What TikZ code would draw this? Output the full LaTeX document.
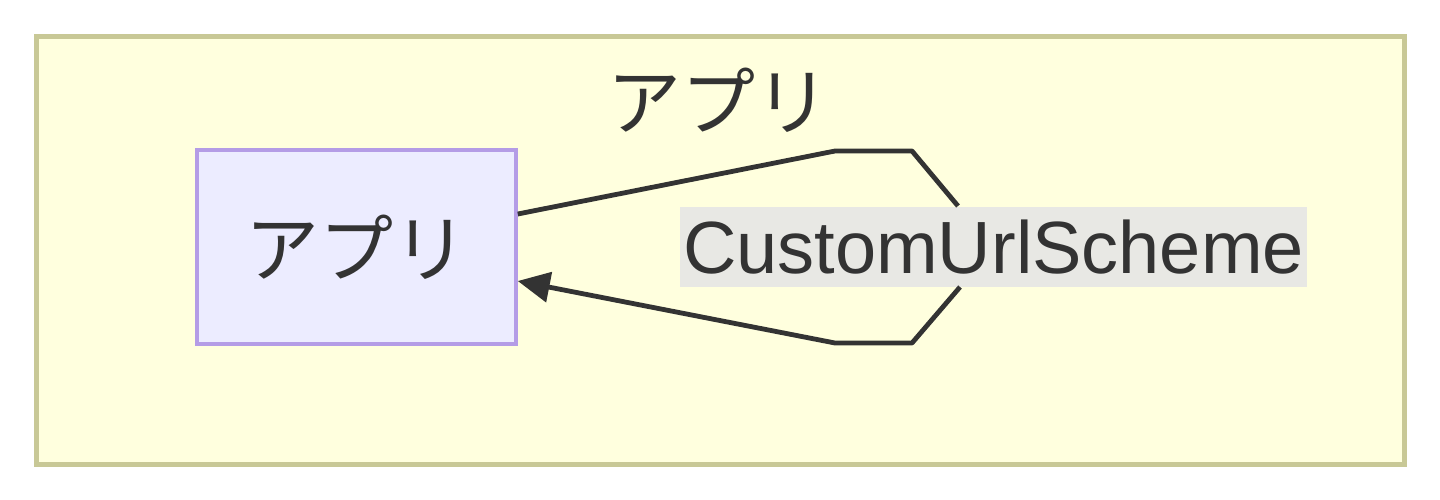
\documentclass[tikz,border=0pt]{standalone}
\usepackage{fontspec}
\setmainfont{Liberation Sans}
\newfontfamily\cjk{Noto Sans CJK JP}
\usetikzlibrary{arrows.meta}
\definecolor{clfill}{HTML}{FFFFDE}
\definecolor{clstroke}{HTML}{C8C896}
\definecolor{ndfill}{HTML}{ECECFF}
\definecolor{ndstroke}{HTML}{B49CE6}
\definecolor{ink}{HTML}{333333}
\definecolor{lblbg}{HTML}{E8E8E4}
\begin{document}
\begin{tikzpicture}[x=1pt,y=-1pt,
  cluster/.style={draw=clstroke,fill=clfill,line width=4.5pt},
  nodebox/.style={draw=ndstroke,fill=ndfill,line width=3.5pt,minimum width=319pt,minimum height=194pt,inner sep=0pt,text=ink,font=\cjk\fontsize{74}{80}\selectfont},
  title/.style={text=ink,font=\cjk\fontsize{74}{80}\selectfont,inner sep=0pt},
  edgelabel/.style={fill=lblbg,text=ink,font=\fontsize{74}{80}\selectfont,minimum width=627pt,minimum height=80pt,inner sep=0pt},
  edge/.style={draw=ink,line width=4.8pt,line join=round}]
\useasboundingbox (0,0) rectangle (1440,499);
\fill[white] (0,0) rectangle (1440,499);
\node[cluster,minimum width=1368pt,minimum height=428pt,inner sep=0pt,anchor=north west] (cl) at (34,34) {};
\node[title] (ttl) at (718,100) {アプリ};
\node[nodebox] (app) at (356.5,247) {アプリ};
\node[edgelabel] (lbl) at (993.5,247) {CustomUrlScheme};
\coordinate (p1) at (835,151);
\coordinate (p2) at (912,151);
\coordinate (p3) at (958,206);
\coordinate (q3) at (960,287);
\coordinate (q2) at (912,343);
\coordinate (q1) at (835,343);
\draw[edge] (app.east |- 0,214) -- (p1) -- (p2) -- (p3);
\draw[edge,-{Triangle[length=32pt,width=30pt]}] (q3) -- (q2) -- (q1) -- (app.east |- 0,281);
\end{tikzpicture}
\end{document}
